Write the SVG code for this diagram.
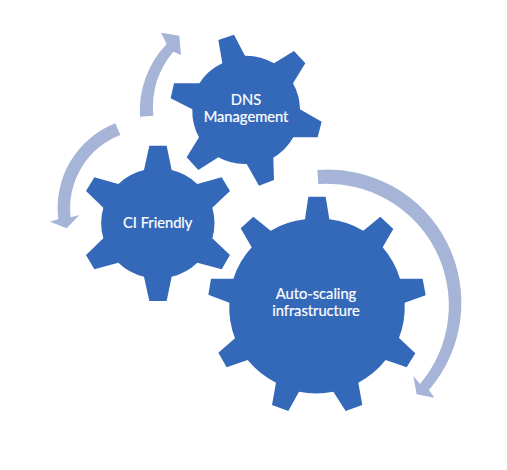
<svg xmlns="http://www.w3.org/2000/svg" width="507" height="470" viewBox="0 0 507 470">
<style>
.gear{fill:#3469b9}
.arrow{fill:#a6b4d8}
text{font-family:"Lato","Carlito","Liberation Sans",sans-serif;font-size:14.7px;fill:#fff;stroke:#fff;stroke-width:.2px;text-anchor:middle}
</style>
<rect width="507" height="470" fill="#fff"/>
<g id="connectors">
<path class="arrow" transform="translate(130 20) scale(.33333)" d="M30 290A290 290 0 0 1 110 72L93 38L148 47L153 105L130 95A255 255 0 0 0 70 287Z"/>
<path class="arrow" transform="translate(40 120) scale(.33333)" d="M226 10L241 45A235 235 0 0 0 92 292L118 285L80 325L30 305L55 298A272 272 0 0 1 226 10Z"/>
<path class="arrow" transform="translate(200 160) scale(.33333)" d="M352 30A400 400 0 0 1 687 690L703 713L650 703L640 648L660 672A365 365 0 0 0 355 72Z"/>
</g>
<g id="node-dns">
<path class="gear" transform="translate(130 20) scale(.33333)" d="M277 130L265 60L312 44L345 107A163 163 0 0 1 432 130L492 93L526 130L489 190A163 163 0 0 1 510 268L575 305L563 352L490 352A163 163 0 0 1 430 413L432 480L387 497L350 432A163 163 0 0 1 265 412L205 450L170 412L207 352A163 163 0 0 1 187 268L122 235L132 190L208 190A163 163 0 0 1 277 130Z"/>
<text x="246"><tspan x="246" y="105.3">DNS</tspan><tspan x="246" y="122.4">Management</tspan></text>
</g>
<g id="node-ci">
<path class="gear" transform="translate(40 120) scale(.33333)" d="M312 150L328 77L380 77L395 150A167 167 0 0 1 472 192L545 172L570 213L517 263A167 167 0 0 1 517 355L570 405L545 448L472 428A167 167 0 0 1 395 470L380 543L328 543L312 470A167 167 0 0 1 235 428L163 448L138 405L190 355A167 167 0 0 1 190 263L138 213L163 172L235 192A167 167 0 0 1 312 150Z"/>
<text x="157.7" y="228">CI Friendly</text>
</g>
<g id="node-autoscaling">
<path class="gear" transform="translate(200 160) scale(.33333)" d="M315 178L325 110L377 110L388 178A263 263 0 0 1 490 212L541 170L580 207L548 262A263 263 0 0 1 600 356L668 356L677 406L614 428A263 263 0 0 1 597 534L646 580L620 622L557 600A263 263 0 0 1 475 668L487 735L437 753L400 695A263 263 0 0 1 297 695L265 753L216 735L228 668A263 263 0 0 1 143 600L80 622L55 578L105 535A263 263 0 0 1 88 428L25 404L33 356L100 356A263 263 0 0 1 155 262L122 205L160 170L212 212A263 263 0 0 1 315 178Z"/>
<text x="316"><tspan x="316" y="299">Auto-scaling</tspan><tspan x="316" y="316">infrastructure</tspan></text>
</g>
</svg>
